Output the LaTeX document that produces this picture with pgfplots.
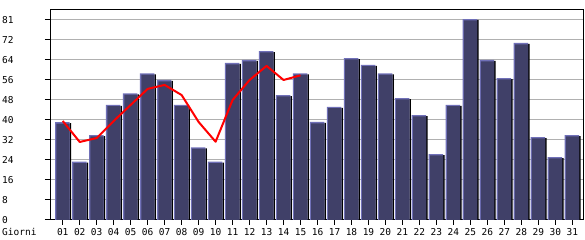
\documentclass[border=0pt]{standalone}
\usepackage{pgfplots}
\pgfplotsset{compat=1.18}
\usepackage{pgfplotstable}
\usepackage{fontspec}
\setmainfont{DejaVu Sans}
\setmonofont{DejaVu Sans Mono}
\definecolor{barbody}{HTML}{404068}
\definecolor{barhi}{HTML}{7070B8}
\definecolor{gridc}{HTML}{B0B0B0}
\pgfplotstableread{
x v
1 39.6
2 23.6
3 34.4
4 46.6
5 51.3
6 59.4
7 56.7
8 46.6
9 29.4
10 23.6
11 63.6
12 64.8
13 68.4
14 50.6
15 59.4
16 39.7
17 45.8
18 65.6
19 62.8
20 59.4
21 49.4
22 42.5
23 26.7
24 46.6
25 81.4
26 64.8
27 57.5
28 71.7
29 33.6
30 25.5
31 34.4
}\bars
\pgfplotstableread{
x v
1 40.1
2 31.6
3 33.2
4 40.1
5 46.6
6 53.1
7 54.7
8 50.6
9 39.7
10 31.7
11 48.6
12 56.7
13 62.4
14 56.7
15 58.6
}\avg
\begin{document}
\begin{tikzpicture}[x=1pt,y=1pt]
\useasboundingbox (0,0) rectangle (585,240);
\begin{axis}[
  at={(50pt,20pt)}, anchor=south west,
  width=533pt, height=210pt, scale only axis,
  xmin=0.25, xmax=31.63, ymin=0, ymax=85.05,
  axis line style={black, line width=1pt},
  xtick={1,...,31},
  xticklabels={01,02,03,04,05,06,07,08,09,10,11,12,13,14,15,16,17,18,19,20,21,22,23,24,25,26,27,28,29,30,31},
  ytick={0,8.1,16.2,24.3,32.4,40.5,48.6,56.7,64.8,72.9,81},
  yticklabels={0,8,16,24,32,40,48,56,64,72,81},
  tick align=outside, major tick length=5pt,
  tick style={black, line width=1pt},
  x tick style={draw=black},
  ymajorgrids, grid style={gridc, line width=1pt},
  xtick pos=bottom, ytick pos=left,
  ticklabel style={font=\ttfamily\fontsize{9.5}{11}\selectfont, inner sep=0pt},
  /pgf/number format/assume math mode=true,
  xticklabel style={anchor=base, yshift=-11pt},
  yticklabel style={anchor=west, xshift=-43pt},
  clip=false,
]
\addplot[ybar, bar width=1.5pt, bar shift=7.55pt, fill=black, draw=none] table[x=x, y expr=\thisrow{v}-0.4] {\bars};
\addplot[ybar, bar width=14.5pt, bar shift=-0.45pt, fill=barhi, draw=none] table[x=x, y=v] {\bars};
\addplot[ybar, bar width=13.2pt, bar shift=0.2pt, fill=barbody, draw=none] table[x=x, y expr=\thisrow{v}-0.53] {\bars};
\addplot[red, line width=2pt, line join=round, mark=none] table[x=x, y=v] {\avg};
\end{axis}
\node[anchor=base west, inner sep=0pt, font=\ttfamily\fontsize{9.5}{11}\selectfont] at (2,4) {Giorni};
\end{tikzpicture}
\end{document}
